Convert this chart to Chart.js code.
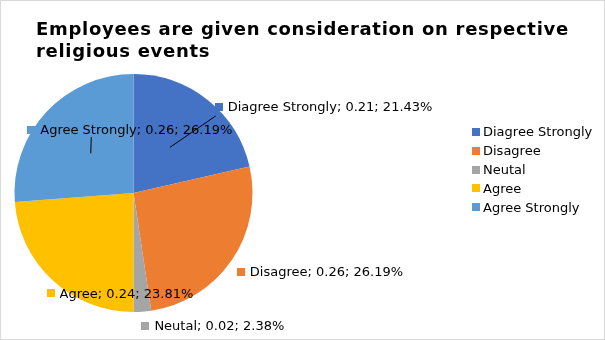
<!DOCTYPE html>
<html>
<head>
<meta charset="utf-8">
<script src="https://cdn.jsdelivr.net/npm/chart.js@4"></script>
<style>
  html, body { margin: 0; padding: 0; background: #fff; }
  canvas { display: block; }
</style>
</head>
<body>
<canvas id="pieChart" width="605" height="340"></canvas>
<script>
// chart data
const titleLines = ['Employees are given consideration on respective', 'religious events'];
const categories = ['Diagree Strongly', 'Disagree', 'Neutal', 'Agree', 'Agree Strongly'];
const values = [0.21, 0.26, 0.02, 0.24, 0.26];
const percents = [21.43, 26.19, 2.38, 23.81, 26.19];
const colors = ['#4472C4', '#ED7D31', '#A5A5A5', '#FFC000', '#5B9BD5'];

// label placement, relative to the slice's outer mid point (Excel "best fit" look)
const labelOffsets = [[11, 7], [9, 12], [3, 14], [-2, 13], [-15, 18]];
// leader lines start (relative to label square), null = no line
const leaderStarts = [[-3, 9], null, null, null, [60, 7]];

const FONT = '"DejaVu Sans", sans-serif';

// draws title, data labels, legend and frame
const decorPlugin = {
    id: 'decor',
    afterDraw(chart) {
        const ctx = chart.ctx;
        ctx.save();

        // outer frame
        ctx.strokeStyle = '#d9d9d9';
        ctx.lineWidth = 1;
        ctx.strokeRect(0.5, 0.5, chart.width - 1, chart.height - 1);

        // title (a bit wider spacing, like the original)
        ctx.fillStyle = '#000';
        ctx.font = 'bold 18px ' + FONT;
        ctx.letterSpacing = '0.7px';
        ctx.textAlign = 'left';
        ctx.textBaseline = 'alphabetic';
        titleLines.forEach((line, i) => ctx.fillText(line, 36, 35 + i * 22));
        ctx.letterSpacing = '0px';

        // data labels
        const meta = chart.getDatasetMeta(0);
        ctx.font = '13px ' + FONT;
        ctx.textBaseline = 'middle';
        meta.data.forEach((arc, i) => {
            const p = arc.getProps(['x', 'y', 'startAngle', 'endAngle', 'outerRadius'], true);
            const mid = (p.startAngle + p.endAngle) / 2;
            const ox = p.x + Math.cos(mid) * p.outerRadius;
            const oy = p.y + Math.sin(mid) * p.outerRadius;
            const lx = ox + labelOffsets[i][0];
            const ly = oy + labelOffsets[i][1];

            if (leaderStarts[i]) {
                const ix = p.x + Math.cos(mid) * p.outerRadius * 0.49;
                const iy = p.y + Math.sin(mid) * p.outerRadius * 0.49;
                ctx.strokeStyle = '#000';
                ctx.lineWidth = 1;
                ctx.beginPath();
                ctx.moveTo(lx + leaderStarts[i][0], ly + leaderStarts[i][1]);
                ctx.lineTo(ix, iy);
                ctx.stroke();
            }

            ctx.fillStyle = colors[i];
            ctx.fillRect(Math.round(lx - 4), Math.round(ly - 4), 8, 8);
            ctx.fillStyle = '#000';
            const txt = categories[i] + '; ' + values[i].toFixed(2) + '; ' + percents[i].toFixed(2) + '%';
            ctx.fillText(txt, lx + 9, ly + 1);
        });

        // legend
        categories.forEach((c, i) => {
            const y = 132 + i * 18.8;
            ctx.fillStyle = colors[i];
            ctx.fillRect(472, Math.round(y - 4), 8, 8);
            ctx.fillStyle = '#000';
            ctx.fillText(c, 483, y + 1);
        });

        ctx.restore();
    }
};

const chart = new Chart(document.getElementById('pieChart').getContext('2d'), {
    type: 'pie',
    data: {
        labels: categories,
        datasets: [{
            data: percents,
            backgroundColor: colors,
            borderWidth: 0
        }]
    },
    options: {
        responsive: false,
        animation: false,
        layout: {
            padding: { left: 14, top: 74, right: 352, bottom: 28 }
        },
        plugins: {
            legend: { display: false },
            title: { display: false },
            tooltip: { enabled: false }
        }
    },
    plugins: [decorPlugin]
});
</script>
</body>
</html>
